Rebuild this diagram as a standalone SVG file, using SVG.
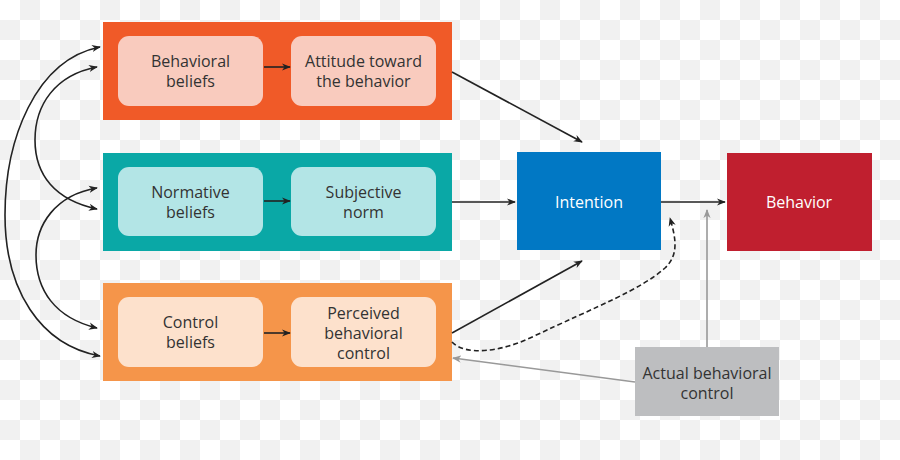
<svg xmlns="http://www.w3.org/2000/svg" width="900" height="460" viewBox="0 0 900 460">
<defs>
<pattern id="chk" width="40" height="40" patternUnits="userSpaceOnUse">
<rect width="40" height="40" fill="#ffffff"/>
<rect x="20" y="0" width="20" height="20" fill="#f1f1f1"/>
<rect x="0" y="20" width="20" height="20" fill="#f1f1f1"/>
</pattern>
<marker id="ah" viewBox="0 0 10 10" refX="9" refY="5" markerWidth="9" markerHeight="9" markerUnits="userSpaceOnUse" orient="auto-start-reverse">
<path d="M0,1 L10,5 L0,9 L3,5 Z" fill="#222"/>
</marker>
<marker id="ahg" viewBox="0 0 10 10" refX="9" refY="5" markerWidth="9" markerHeight="9" markerUnits="userSpaceOnUse" orient="auto-start-reverse">
<path d="M0,1 L10,5 L0,9 L3,5 Z" fill="#999"/>
</marker>
</defs>
<style>
text{font-family:"Open Sans","Noto Sans","Liberation Sans",sans-serif;font-size:16px;text-anchor:middle;fill:#333}
.w{fill:#fff;font-size:16px}
.c{fill:none;stroke:#222;stroke-width:1.6}
.g{fill:none;stroke:#999;stroke-width:1.6}
.in{rx:11;ry:11}
</style>
<rect width="900" height="460" fill="url(#chk)"/>

<g id="attitude-group">
<rect x="103" y="22" width="349" height="98" fill="#F05A28"/>
<g id="behavioral-beliefs">
<rect class="in" x="118" y="36" width="145" height="70" fill="#F9CBBE"/>
<text x="190.5" y="67">Behavioral</text><text x="190.5" y="87">beliefs</text>
</g>
<g id="attitude">
<rect class="in" x="291" y="36" width="145" height="70" fill="#F9CBBE"/>
<text x="363.5" y="67">Attitude toward</text><text x="363.5" y="87">the behavior</text>
</g>
</g>

<g id="norm-group">
<rect x="103" y="153" width="349" height="98" fill="#0AA8A6"/>
<g id="normative-beliefs">
<rect class="in" x="118" y="167" width="145" height="69" fill="#B3E5E6"/>
<text x="190.5" y="198">Normative</text><text x="190.5" y="218">beliefs</text>
</g>
<g id="subjective-norm">
<rect class="in" x="291" y="167" width="145" height="69" fill="#B3E5E6"/>
<text x="363.5" y="198">Subjective</text><text x="363.5" y="218">norm</text>
</g>
</g>

<g id="control-group">
<rect x="103" y="283" width="349" height="98" fill="#F5954A"/>
<g id="control-beliefs">
<rect class="in" x="118" y="297" width="145" height="70" fill="#FDE1CC"/>
<text x="190.5" y="328">Control</text><text x="190.5" y="348">beliefs</text>
</g>
<g id="perceived-control">
<rect class="in" x="291" y="297" width="145" height="70" fill="#FDE1CC"/>
<text x="363.5" y="319">Perceived</text><text x="363.5" y="339">behavioral</text><text x="363.5" y="359">control</text>
</g>
</g>

<g id="intention">
<rect x="517" y="152" width="144" height="98" fill="#0178C4"/>
<text class="w" x="589" y="208">Intention</text>
</g>

<g id="behavior">
<rect x="727" y="153" width="145" height="98" fill="#C01F2F"/>
<text class="w" x="799" y="208">Behavior</text>
</g>

<g id="actual-control">
<rect x="635" y="347" width="144" height="69" fill="#BDBEC0"/>
<text x="707" y="379">Actual behavioral</text><text x="707" y="399">control</text>
</g>

<g id="connectors">
<line class="c" x1="264" y1="67" x2="290" y2="67" marker-end="url(#ah)"/>
<line class="c" x1="264" y1="201" x2="290" y2="201" marker-end="url(#ah)"/>
<line class="c" x1="264" y1="333" x2="290" y2="333" marker-end="url(#ah)"/>
<line class="c" x1="452" y1="72" x2="582" y2="142" marker-end="url(#ah)"/>
<line class="c" x1="452" y1="202" x2="515" y2="202" marker-end="url(#ah)"/>
<line class="c" x1="452" y1="333" x2="582" y2="261" marker-end="url(#ah)"/>
<line class="c" x1="661" y1="202" x2="725" y2="202" marker-end="url(#ah)"/>
<path class="c" d="M452,342 C465,356 500,352 530,338 C600,305 640,290 665,268 C680,254 675,236 670,218" stroke-dasharray="5,3" marker-end="url(#ah)"/>
<line class="g" x1="707" y1="347" x2="707" y2="210" marker-end="url(#ahg)"/>
<line class="g" x1="635" y1="382" x2="453" y2="358" marker-end="url(#ahg)"/>
<path class="c" d="M100,47 C35,60 5,140 5,215 C5,290 40,345 100,356" marker-start="url(#ah)" marker-end="url(#ah)"/>
<path class="c" d="M97,67 C55,75 35,105 35,140 C35,175 55,200 97,209" marker-start="url(#ah)" marker-end="url(#ah)"/>
<path class="c" d="M97,188 C55,195 36,225 36,255 C36,290 55,318 97,328" marker-start="url(#ah)" marker-end="url(#ah)"/>
</g>
</svg>
